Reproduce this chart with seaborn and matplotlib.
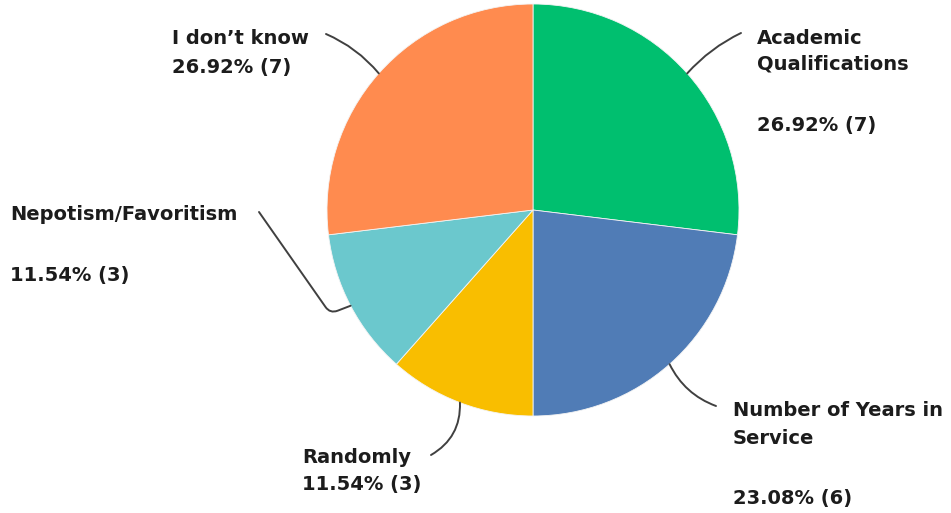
import matplotlib
matplotlib.use("Agg")
import matplotlib.pyplot as plt
import numpy as np
import seaborn as sns

# data
categories = ["Academic Qualifications", "Number of Years in Service", "Randomly",
              "Nepotism/Favoritism", "I don't know"]
counts = [7, 6, 3, 3, 7]
percents = [26.92, 23.08, 11.54, 11.54, 26.92]
colors = ["#00BF6F", "#507CB6", "#F9BE00", "#6BC8CD", "#FF8B4F"]

sns.set_theme(style="white")
plt.rcParams["font.family"] = ["DejaVu Sans"]

W, H = 951, 513
fig = plt.figure(figsize=(W / 100, H / 100), dpi=100)


def px(x, y):
    # pixel coords (top-left origin) -> figure fraction
    return x / W, 1 - y / H


cx, cy, r = 533, 210, 206
ax = fig.add_axes([(cx - r) / W, 1 - (cy + r) / H, 2 * r / W, 2 * r / H])
wedges, _ = ax.pie(
    counts,
    colors=sns.color_palette(colors),
    startangle=90,
    counterclock=False,
    radius=1,
    wedgeprops=dict(edgecolor="#f4f4f4", linewidth=0.6),
)
ax.set_xlim(-1, 1)
ax.set_ylim(-1, 1)
ax.set_aspect("auto")
ax.axis("off")

# label layout: name lines with baselines, pct baseline, x, line start, connector
layout = [
    (["Academic", "Qualifications"], [44, 69], 131, 757, (741, 33), "arc3,rad=0.1"),
    (["Number of Years in", "Service"], [416, 444], 504, 733, (716, 406), "arc3,rad=-0.2"),
    (["Randomly"], [463], 490, 302, (431, 455), "arc3,rad=0.3"),
    (["Nepotism/Favoritism"], [220], 281, 10, (259, 212),
     "angle,angleA=-55,angleB=-159,rad=8"),
    (["I don\u2019t know"], [44], 73, 172, (326, 34), "arc3,rad=-0.12"),
]

fs = 14
tc = "#1c1c1c"
for w, cnt, pct, (lines, bases, pbase, x0, lpos, cs) in zip(wedges, counts, percents, layout):
    for line, yb in zip(lines, bases):
        fig.text(*px(x0, yb), line, ha="left", va="baseline",
                 fontsize=fs, fontweight="bold", color=tc)
    fig.text(*px(x0, pbase), f"{pct:.2f}% ({cnt})", ha="left", va="baseline",
             fontsize=fs, fontweight="bold", color=tc)
    mid = np.deg2rad((w.theta1 + w.theta2) / 2)
    ax.annotate("", xy=(np.cos(mid), np.sin(mid)), xycoords="data",
                xytext=px(*lpos), textcoords="figure fraction",
                arrowprops=dict(arrowstyle="-", color="#404040", lw=1.4,
                                connectionstyle=cs, shrinkA=0, shrinkB=0),
                annotation_clip=False)

fig.savefig("out.png", dpi=100)
